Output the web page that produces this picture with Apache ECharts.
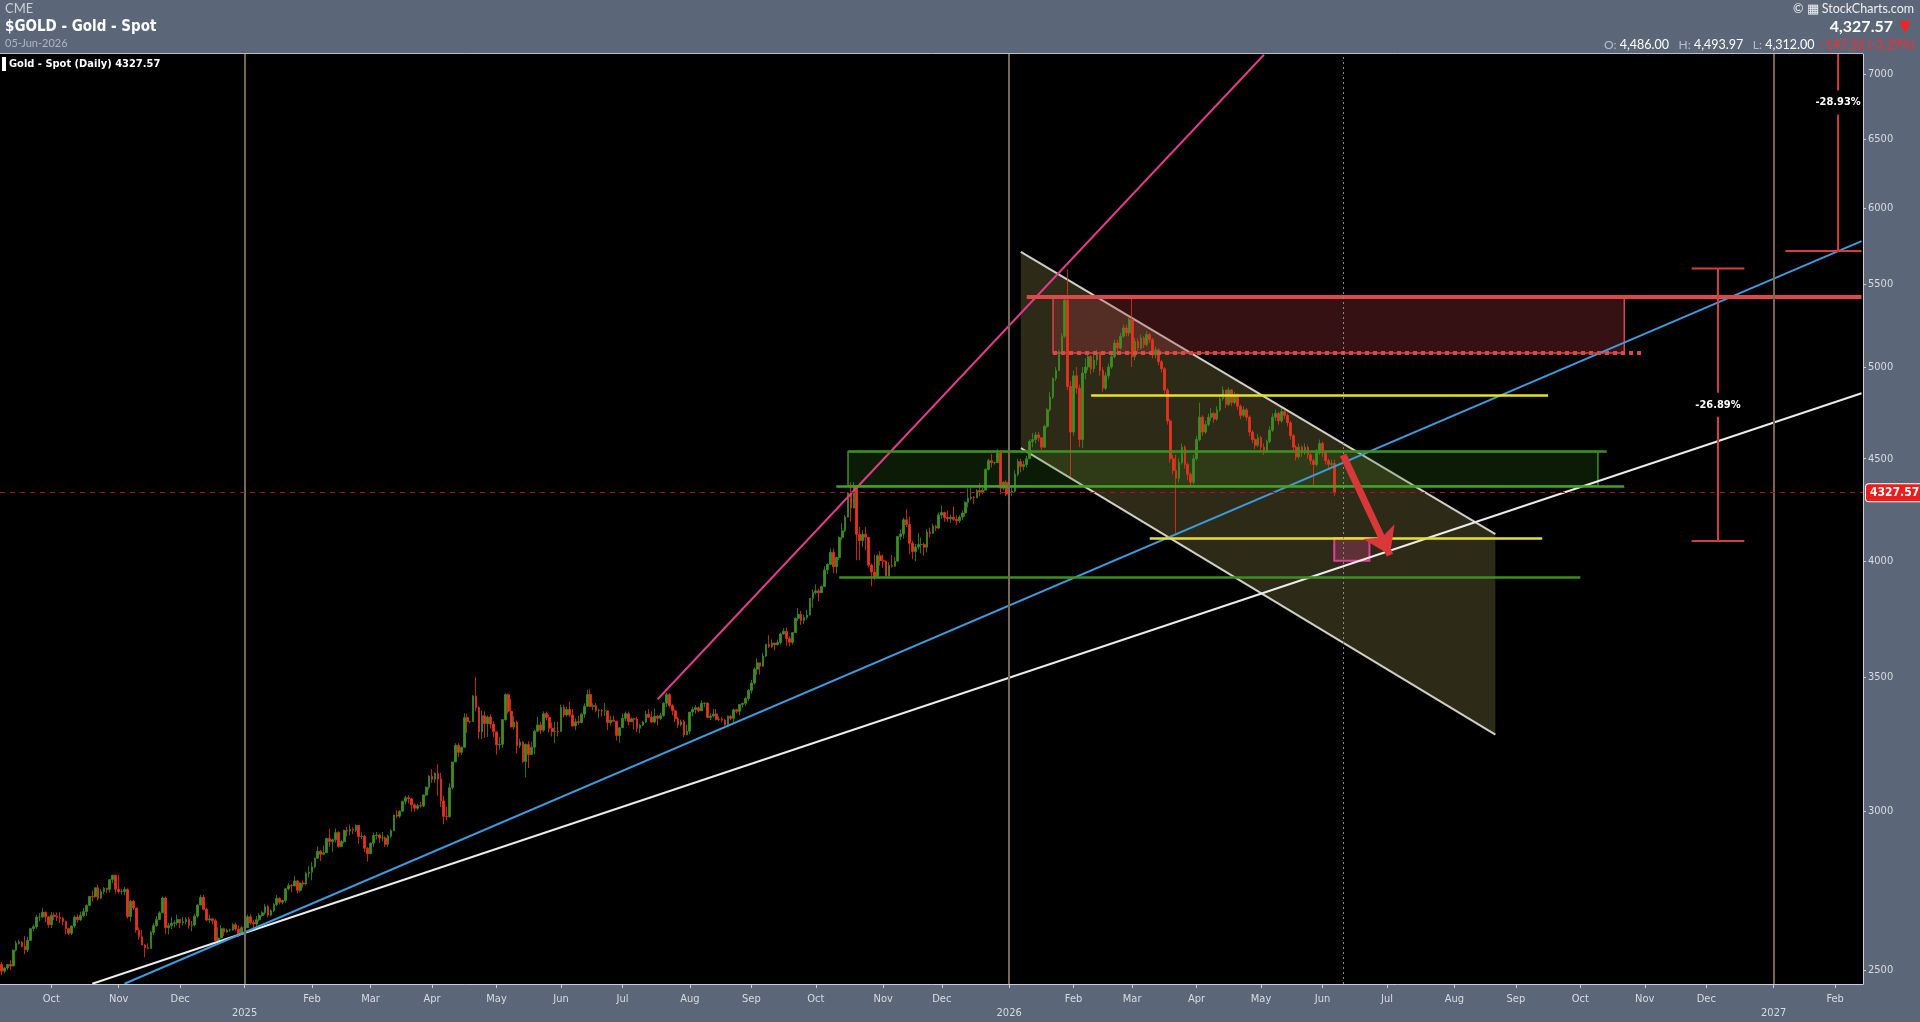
<!DOCTYPE html>
<html><head><meta charset="utf-8">
<script src="https://cdn.jsdelivr.net/npm/echarts@6/dist/echarts.min.js"></script>
<style>html,body{margin:0;padding:0;background:#5b6778;overflow:hidden}#chart{width:1920px;height:1022px}</style>
</head><body><div id="chart"></div>
<script>
// ---------- data ----------
const startDate = '2024-09-06';
const endDate = '2027-02-12';
const firstOpen = 2516;
const closes = [
// Sep 2024
2497,2506,2516,2512,2558,2578,2582,2569,2559,2587,2622,2628,2657,2657,2672,2658,2634,
// Oct 2024
2663,2659,2656,2653,2644,2622,2608,2630,2657,2649,2662,2674,2693,2721,2720,2748,2715,2736,2747,2743,2774,2788,2744,
// Nov 2024
2736,2736,2743,2659,2706,2685,2618,2598,2573,2565,2563,2611,2631,2650,2670,2716,2625,2631,2638,2640,2650,
// Dec 2024
2640,2643,2650,2632,2633,2660,2694,2718,2681,2648,2652,2646,2586,2594,2622,2612,2618,2618,2634,2621,2606,2625,
// Jan 2025
2625,2658,2640,2636,2649,2662,2670,2690,2663,2677,2696,2715,2703,2708,2745,2755,2754,2770,2740,2763,2760,2794,2798,
// Feb 2025
2815,2843,2866,2856,2861,2908,2898,2904,2928,2882,2898,2935,2933,2939,2936,2952,2915,2916,2876,2858,
// Mar 2025
2893,2918,2920,2910,2910,2889,2916,2934,2988,2984,3001,3035,3048,3044,3023,3011,3020,3019,3057,3085,3124,
// Apr 2025
3113,3134,3114,3037,2983,2982,3083,3176,3237,3211,3230,3342,3327,3327,3425,3381,3288,3349,3319,3344,3317,3288,
// May 2025
3239,3241,3334,3431,3366,3306,3325,3236,3249,3177,3240,3203,3230,3290,3314,3294,3357,3342,3301,3289,3290,3289,
// Jun 2025
3381,3352,3373,3352,3310,3326,3323,3355,3386,3432,3385,3388,3369,3370,3368,3368,3323,3332,3328,3274,3303,
// Jul 2025
3339,3357,3326,3337,3336,3301,3313,3325,3355,3343,3325,3347,3339,3350,3397,3431,3388,3368,3337,3314,3326,3276,3290,
// Aug 2025
3363,3373,3380,3368,3397,3398,3342,3348,3356,3335,3336,3332,3315,3347,3339,3372,3366,3393,3397,3416,3448,
// Sep 2025
3477,3533,3559,3545,3587,3636,3626,3641,3634,3643,3679,3690,3660,3644,3685,3746,3763,3736,3749,3760,3833,3858,
// Oct 2025
3866,3857,3886,3960,3985,4041,3975,4017,4110,4142,4208,4326,4252,4356,4125,4095,4126,4112,3982,3951,3930,4025,4002,
// Nov 2025
4000,3932,3980,3977,4000,4115,4127,4195,4172,4083,4045,4066,4077,4077,4065,4135,4130,4164,4155,4218,
// Dec 2025
4230,4206,4200,4207,4197,4190,4208,4228,4280,4300,4305,4303,4338,4330,4340,4445,4490,4480,4480,4530,4350,4380,4320,
// Jan 2026
4330,4335,4420,4485,4460,4470,4500,4590,4600,4625,4610,4560,4670,4760,4830,4935,4980,5090,5180,5400,4890,4640,
// Feb 2026
4950,4880,4600,4966,5000,5060,4990,5040,5080,4980,4880,4950,5000,5060,5140,5110,5180,5230,5200,5280,
// Mar 2026
5060,5150,5110,5170,5130,5190,5160,5070,5100,5030,4990,4870,4700,4500,4440,4400,4480,4560,4470,4420,4380,4500,
// Apr 2026
4600,4720,4640,4680,4720,4740,4710,4760,4820,4870,4790,4870,4800,4840,4780,4730,4760,4720,4640,4600,4570,4610,
// May 2026
4560,4540,4590,4650,4720,4740,4700,4750,4730,4690,4620,4560,4510,4560,4530,4560,4520,4490,4470,4530,4580,
// Jun 2026
4530,4490,4470,4474.89,4327.57
];
const highs = [
2523,2509,2518,2529,2560,2586,2589,2584,2600,2598,2625,2634,2664,2670,2685,2674,2659,
2673,2671,2671,2672,2658,2646,2625,2632,2662,2665,2674,2684,2696,2722,2740,2749,2758,2744,2750,2748,2774,2790,2790,
2790,2745,2750,2746,2711,2710,2685,2626,2618,2576,2578,2615,2639,2660,2675,2721,2720,2639,2656,2647,2665,
2650,2657,2657,2658,2645,2667,2697,2726,2726,2686,2664,2654,2652,2626,2632,2625,2622,2622,2639,2640,2631,2630,
2630,2665,2665,2648,2660,2670,2675,2697,2695,2681,2700,2725,2718,2711,2746,2763,2760,2786,2772,2765,2771,2800,2817,
2830,2845,2882,2870,2886,2911,2942,2908,2942,2933,2904,2938,2947,2955,2945,2956,2950,2928,2921,2880,
2894,2928,2930,2925,2930,2915,2921,2940,2989,3005,3004,3038,3055,3057,3047,3028,3027,3034,3060,3087,3128,
3149,3138,3167,3136,3055,3016,3099,3176,3245,3245,3233,3358,3357,3330,3430,3500,3386,3370,3367,3350,3354,3328,
3285,3269,3336,3437,3435,3414,3347,3331,3262,3252,3244,3252,3250,3296,3345,3326,3366,3365,3353,3324,3326,3326,
3392,3392,3384,3403,3375,3339,3349,3360,3397,3451,3452,3397,3398,3376,3375,3398,3368,3348,3350,3330,3305,
3358,3365,3365,3342,3342,3345,3317,3330,3368,3375,3366,3377,3352,3360,3402,3440,3438,3394,3373,3345,3334,3334,3315,
3363,3384,3390,3385,3409,3400,3401,3358,3375,3375,3346,3345,3337,3350,3351,3377,3376,3393,3399,3423,3454,
3490,3540,3578,3547,3600,3637,3674,3656,3640,3655,3685,3703,3707,3670,3686,3749,3791,3778,3761,3782,3834,3872,
3895,3875,3889,3977,3991,4059,4059,4022,4116,4179,4218,4330,4381,4381,4359,4161,4146,4160,4110,3989,4030,4031,4046,
4030,4004,3995,4028,4019,4118,4148,4205,4245,4211,4095,4080,4132,4110,4087,4150,4157,4175,4170,4230,
4264,4235,4240,4220,4260,4215,4217,4240,4285,4350,4350,4310,4345,4375,4352,4450,4500,4525,4485,4550,4545,4385,4390,
4345,4360,4440,4500,4500,4490,4515,4600,4635,4640,4640,4610,4680,4770,4860,4940,5000,5100,5200,5420,5595,4920,
4980,5000,4900,5000,5050,5090,5070,5070,5100,5090,5000,4970,5020,5080,5160,5160,5200,5250,5250,5300,
5410,5170,5170,5190,5180,5210,5200,5170,5120,5110,5040,5000,4880,4710,4520,4520,4500,4580,4570,4480,4430,4520,
4620,4800,4730,4700,4740,4770,4750,4780,4840,4890,4870,4885,4875,4860,4850,4790,4780,4770,4730,4650,4610,4630,
4620,4580,4600,4670,4740,4760,4750,4770,4760,4740,4700,4630,4570,4580,4570,4580,4570,4530,4500,4550,4600,
4590,4540,4500,4495,4493.97
];
const lows = [
2485,2491,2500,2500,2511,2554,2574,2566,2546,2553,2585,2614,2622,2644,2655,2642,2625,
2624,2648,2645,2639,2632,2605,2603,2603,2625,2640,2645,2657,2660,2692,2705,2717,2708,2712,2728,2731,2733,2763,2730,
2730,2727,2725,2652,2643,2679,2610,2589,2584,2537,2560,2562,2603,2627,2648,2670,2605,2605,2621,2626,2632,
2623,2631,2635,2622,2614,2629,2655,2693,2678,2645,2640,2635,2585,2583,2592,2600,2610,2612,2616,2616,2597,2604,
2620,2624,2634,2615,2630,2644,2658,2664,2656,2660,2672,2690,2696,2696,2700,2740,2734,2752,2730,2734,2749,2755,2780,
2772,2811,2841,2834,2853,2861,2880,2864,2895,2878,2880,2892,2916,2919,2923,2930,2890,2906,2863,2832,
2858,2880,2905,2894,2899,2880,2881,2910,2933,2977,2978,3000,3024,3028,2999,3000,3005,3013,3015,3053,3076,
3100,3100,3055,3015,2957,2970,2980,3077,3175,3194,3200,3229,3284,3320,3325,3366,3260,3260,3265,3268,3300,3268,
3202,3221,3228,3330,3357,3304,3297,3208,3227,3172,3120,3154,3206,3204,3286,3280,3287,3331,3285,3270,3245,3271,
3290,3342,3345,3345,3307,3294,3314,3320,3341,3385,3383,3370,3362,3340,3345,3348,3295,3311,3325,3255,3247,
3302,3328,3311,3326,3296,3287,3282,3310,3321,3340,3321,3319,3310,3332,3345,3383,3381,3351,3325,3302,3308,3268,3282,
3280,3347,3357,3361,3368,3382,3341,3332,3343,3332,3328,3323,3311,3312,3332,3321,3358,3351,3380,3387,3405,
3436,3471,3510,3511,3542,3583,3620,3620,3611,3630,3634,3677,3630,3627,3634,3684,3734,3717,3722,3739,3758,3792,
3850,3821,3858,3883,3940,3983,3945,3944,4005,4097,4136,4206,4186,4250,4004,4004,4065,4050,3971,3886,3915,3930,3979,
3968,3930,3931,3970,3974,4003,4098,4106,4160,4032,4010,4000,4055,4036,4025,4040,4110,4128,4140,4150,
4200,4185,4185,4180,4190,4170,4180,4195,4210,4255,4290,4270,4300,4310,4320,4345,4440,4455,4470,4478,4320,4340,4310,
4300,4310,4330,4410,4430,4440,4455,4500,4560,4580,4590,4545,4555,4660,4750,4820,4920,4980,5080,5170,4870,4406,
4620,4850,4560,4555,4930,4980,4960,4970,5010,4950,4860,4870,4930,4990,5050,5090,5100,5170,5180,5180,
5000,5040,5090,5100,5110,5120,5140,5050,5050,5010,4970,4850,4680,4480,4420,4130,4380,4470,4450,4390,4360,4370,
4490,4590,4620,4630,4670,4700,4690,4700,4750,4810,4770,4780,4780,4790,4760,4710,4720,4700,4620,4580,4550,4560,
4540,4520,4530,4580,4640,4700,4680,4690,4710,4670,4600,4540,4490,4500,4510,4520,4500,4470,4365,4460,4520,
4510,4470,4450,4455,4312
];
const yTicks = [2500,3000,3500,4000,4500,5000,5500,6000,6500,7000];
const monthNames = ['Jan','Feb','Mar','Apr','May','Jun','Jul','Aug','Sep','Oct','Nov','Dec'];
const yearLines = ['2025-01-01','2026-01-01','2027-01-01'];
const todayLine = '2026-06-10';
const lastPrice = 4327.57;

const channelDates = ['2026-01-07','2026-08-21'];
const channelUpper = [5707, 4126];
const channelLower = [4555, 3277];

const trendPink = [['2025-07-17',3413],['2026-05-04',7159]];
const trendBlue = [['2024-11-05',2461],['2027-02-12',5779]];
const trendWhite = [['2024-10-21',2461],['2027-02-12',4852]];
const resistanceRed = [['2026-01-09',5422],['2027-02-12',5422]];
const supportRedDotted = [['2026-01-22',5081],['2026-11-02',5081]];
const yellowHigh = [['2026-02-10',4840],['2026-09-16',4840]];
const yellowLow = [['2026-03-10',4105],['2026-09-14',4105]];
const greenTop = [['2025-10-16',4537],['2026-10-14',4537]];
const greenBottom = [['2025-10-10',4361],['2026-10-22',4361]];
const greenFloor = [['2025-10-13',3928],['2026-10-01',3928]];

const redZone = [['2026-01-22',5422],['2026-10-22',5081]];
const greenZone = [['2025-10-16',4537],['2026-10-09',4361]];
const targetZone = [['2026-06-05',4108],['2026-06-23',4002]];
const arrowPath = [['2026-06-10',4519],['2026-07-02',4028]];

const measureDates = ['2026-12-07','2027-02-02'];
const measureTop = [5600, 8039];
const measureBottom = [4094, 5713];
const measureCapFrom = ['2026-11-24','2027-01-07'];
const measureCapTo = ['2026-12-18','2027-02-12'];
const measureLabels = ['-26.89%','-28.93%'];

// ---------- build ----------
const DAY = 86400000;
const dates = [];
for (let t = Date.parse(startDate+'T00:00:00Z'); t <= Date.parse(endDate+'T00:00:00Z'); t += DAY) {
  const d = new Date(t); const w = d.getUTCDay();
  if (w !== 0 && w !== 6) dates.push(d.toISOString().slice(0,10));
}
const idxMap = new Map(dates.map((d,i)=>[d,i]));
const ix = d => idxMap.get(d);
const monthStart = new Set();
dates.forEach((d,i)=>{ if (i>0 && d.slice(5,7)!==dates[i-1].slice(5,7)) monthStart.add(i); });

const candles = closes.map((c,i)=>{
  const o = i===0 ? firstOpen : closes[i-1];
  return [o, c, Math.min(lows[i],o,c), Math.max(highs[i],o,c)];
});

const NARROW = "'Liberation Sans Narrow','DejaVu Sans Condensed',Roboto,sans-serif";
const AXC = '#d8dce1';

const chart = echarts.init(document.getElementById('chart'), null, {renderer:'canvas'});

function seg(pts, style){ return {coords: pts.map(p=>[ix(p[0]), p[1]]), lineStyle: Object.assign({opacity:1, cap:'butt'}, style)}; }

const zones = [redZone, greenZone, targetZone];
const zoneStyles = [
  {fill:'rgba(175,55,65,0.30)', stroke:'#d44848', lw:1.5},
  {fill:'rgba(55,125,25,0.22)', stroke:'#3e8f22', lw:1.5},
  {fill:'rgba(190,60,110,0.35)', stroke:'#e0409a', lw:2}
];

const option = {
  animation:false,
  backgroundColor:'#5b6778',
  textStyle:{fontFamily:NARROW},
  grid:{left:0,right:57,top:54,bottom:38,show:true,backgroundColor:'#000',borderWidth:0,containLabel:false,outerBoundsMode:'none'},
  xAxis:{
    type:'category', data:dates, boundaryGap:true,
    axisLine:{show:true,lineStyle:{color:'#c9ced4',width:1}},
    axisTick:{show:true,interval:(i)=>monthStart.has(i),alignWithLabel:true,length:4,lineStyle:{color:'#c9ced4'}},
    axisLabel:{interval:(i)=>monthStart.has(i),color:AXC,fontSize:11,fontFamily:NARROW,margin:8,lineHeight:14,
      formatter:(v)=>{const m=+v.slice(5,7)-1; return m===0 ? '\n'+v.slice(0,4) : monthNames[m];}},
    splitLine:{show:false}
  },
  yAxis:{
    type:'log', position:'right', min:2460.4, max:7165.3, logBase:10,
    axisLine:{show:true,lineStyle:{color:'#c9ced4',width:1}},
    axisTick:{show:true,length:3,customValues:yTicks,lineStyle:{color:'#c9ced4'}},
    axisLabel:{customValues:yTicks,color:AXC,fontSize:11,fontFamily:NARROW,margin:5,formatter:(v)=>String(Math.round(v))},
    splitLine:{show:false}
  },
  graphic:[
    {type:'line',shape:{x1:0,y1:53.5,x2:1863,y2:53.5},style:{stroke:'#b9c0c8',lineWidth:1},z:10},
    {type:'text',x:5,y:9,style:{text:'CME',fill:'#c9d0d8',font:"13px Lato",verticalAlign:'middle'}},
    {type:'text',x:5,y:27,style:{text:'$GOLD - Gold - Spot',fill:'#ffffff',font:"bold 15px "+NARROW,verticalAlign:'middle'}},
    {type:'text',x:5,y:43,style:{text:'05-Jun-2026',fill:'#aeb6c0',font:"11px Lato",verticalAlign:'middle'}},
    {type:'text',x:1914,y:9,style:{text:'© ▦ StockCharts.com',fill:'#eef1f4',font:"12.5px Lato",align:'right',verticalAlign:'middle'}},
    {type:'text',x:1893,y:27,style:{text:'4,327.57',fill:'#ffffff',font:"bold 16px Lato",align:'right',verticalAlign:'middle'}},
    {type:'text',x:1905,y:27,style:{text:'▼',fill:'#ff1f1f',font:"15px 'DejaVu Sans'",align:'center',verticalAlign:'middle'}},
    {type:'text',x:1914,y:45,style:{
      text:'{l|O:} {v|4,486.00}   {l|H:} {v|4,493.97}   {l|L:} {v|4,312.00}  {r|-147.32 (-3.29%)}',
      align:'right',verticalAlign:'middle',font:"12.5px Lato",
      rich:{l:{fill:'#b7bfc8',color:'#b7bfc8',font:"12px Lato"},v:{fill:'#ffffff',color:'#ffffff',font:"12.5px Lato"},r:{fill:'#ff2a2a',color:'#ff2a2a',font:"12.5px Lato"}}}},
    {type:'rect',shape:{x:2,y:57,width:4,height:14},style:{fill:'#ffffff'},z:10},
    {type:'text',x:9,y:64.5,style:{text:'Gold - Spot (Daily) 4327.57',fill:'#ffffff',font:"bold 11px "+NARROW,verticalAlign:'middle'},z:10}
  ],
  series:[
    { // descending channel
      type:'custom', name:'channel', z:1, silent:true, clip:true,
      data:[[ix(channelDates[0]), channelUpper[0]]],
      renderItem:(params, api)=>{
        const a = api.coord([ix(channelDates[0]), channelUpper[0]]);
        const b = api.coord([ix(channelDates[1]), channelUpper[1]]);
        const c = api.coord([ix(channelDates[1]), channelLower[1]]);
        const d = api.coord([ix(channelDates[0]), channelLower[0]]);
        return {type:'group',children:[
          {type:'polygon',shape:{points:[a,b,c,d]},style:{fill:'rgba(150,140,80,0.30)'}},
          {type:'line',shape:{x1:a[0],y1:a[1],x2:b[0],y2:b[1]},style:{stroke:'rgba(228,228,218,0.9)',lineWidth:2}},
          {type:'line',shape:{x1:d[0],y1:d[1],x2:c[0],y2:c[1]},style:{stroke:'rgba(228,228,218,0.9)',lineWidth:2}}
        ]};
      }
    },
    { // zones
      type:'custom', name:'zones', z:2, silent:true, clip:true,
      data: zones.map(zn=>[ix(zn[0][0]), zn[0][1]]),
      renderItem:(params, api)=>{
        const zn = zones[params.dataIndex], st = zoneStyles[params.dataIndex];
        const p1 = api.coord([ix(zn[0][0]), zn[0][1]]);
        const p2 = api.coord([ix(zn[1][0]), zn[1][1]]);
        return {type:'rect',shape:{x:Math.min(p1[0],p2[0]),y:Math.min(p1[1],p2[1]),width:Math.abs(p2[0]-p1[0]),height:Math.abs(p2[1]-p1[1])},
          style:{fill:st.fill,stroke:st.stroke,lineWidth:st.lw}};
      }
    },
    {
      type:'candlestick', name:'Gold - Spot', z:3, data:candles, barWidth:2.2,
      itemStyle:{color:'#3e8e22',color0:'#e8321e',borderColor:'#3e8e22',borderColor0:'#e8321e',borderWidth:0.8},
      markLine:{
        silent:true, symbol:['none','none'], animation:false,
        data:[
          ...yearLines.map(d=>({xAxis:ix(d),lineStyle:{color:'#7b6652',width:2,type:'solid',opacity:1},label:{show:false}})),
          {xAxis:ix(todayLine),lineStyle:{color:'#8a8a8a',width:1,type:[2,3],opacity:1},label:{show:false}},
          {yAxis:lastPrice,lineStyle:{color:'#9a1c1c',width:1,type:[5,5],opacity:1},
           label:{show:true,position:'end',distance:3,formatter:'4327.57',color:'#fff',fontWeight:'bold',fontSize:12,fontFamily:NARROW,
             backgroundColor:'#ee1d1d',borderColor:'#ffffff',borderWidth:1,borderRadius:3,padding:[3,4,2,4]}}
        ]
      }
    },
    { // trend and level lines
      type:'lines', coordinateSystem:'cartesian2d', z:4, silent:true, polyline:false, symbol:['none','none'],
      lineStyle:{opacity:1},
      data:[
        seg(trendWhite,{color:'#ececec',width:2,type:'solid'}),
        seg(trendBlue,{color:'#3d9bdc',width:2,type:'solid'}),
        seg(trendPink,{color:'#e23a8c',width:2,type:'solid'}),
        seg(greenFloor,{color:'#3e8f22',width:2.5,type:'solid'}),
        seg(greenBottom,{color:'#46a024',width:2.5,type:'solid'}),
        seg(greenTop,{color:'#3e8f22',width:2.5,type:'solid'}),
        seg(yellowHigh,{color:'#e6e22a',width:2.5,type:'solid'}),
        seg(yellowLow,{color:'#e6e22a',width:2.5,type:'solid'}),
        seg(supportRedDotted,{color:'#e04848',width:4,type:[4,4]}),
        seg(resistanceRed,{color:'#e04848',width:4,type:'solid'})
      ]
    },
    { // arrow
      type:'lines', coordinateSystem:'cartesian2d', z:5, silent:true, symbol:['none','arrow'], symbolSize:26,
      lineStyle:{opacity:1},
      data:[seg(arrowPath,{color:'#d93838',width:7,type:'solid'})]
    },
    { // measurement bars
      type:'custom', name:'measures', z:5, silent:true, clip:true,
      data: measureDates.map((d,i)=>[ix(d), measureBottom[i]]),
      renderItem:(params, api)=>{
        const i = params.dataIndex, cs = params.coordSys;
        const x = api.coord([ix(measureDates[i]), measureBottom[i]])[0];
        const yT = api.coord([ix(measureDates[i]), measureTop[i]])[1];
        const yB = api.coord([ix(measureDates[i]), measureBottom[i]])[1];
        const yL = api.coord([ix(measureDates[i]), Math.sqrt(measureTop[i]*measureBottom[i])])[1];
        const xl = api.coord([ix(measureCapFrom[i]), measureBottom[i]])[0];
        const xr = api.coord([ix(measureCapTo[i]), measureBottom[i]])[0];
        const yTc = Math.max(yT, cs.y);
        const st = {stroke:'#d83c3c',lineWidth:2};
        const ch = [
          {type:'line',shape:{x1:x,y1:yTc,x2:x,y2:yL-12},style:st},
          {type:'line',shape:{x1:x,y1:yL+12,x2:x,y2:yB},style:st},
          {type:'line',shape:{x1:xl,y1:yB,x2:xr,y2:yB},style:st},
          {type:'text',x:x,y:yL,style:{text:measureLabels[i],fill:'#ffffff',font:'bold 11px '+NARROW,align:'center',verticalAlign:'middle'}}
        ];
        if (yT >= cs.y) ch.push({type:'line',shape:{x1:xl,y1:yT,x2:xr,y2:yT},style:st});
        return {type:'group',children:ch};
      }
    }
  ]
};
chart.setOption(option);
</script>
</body></html>
